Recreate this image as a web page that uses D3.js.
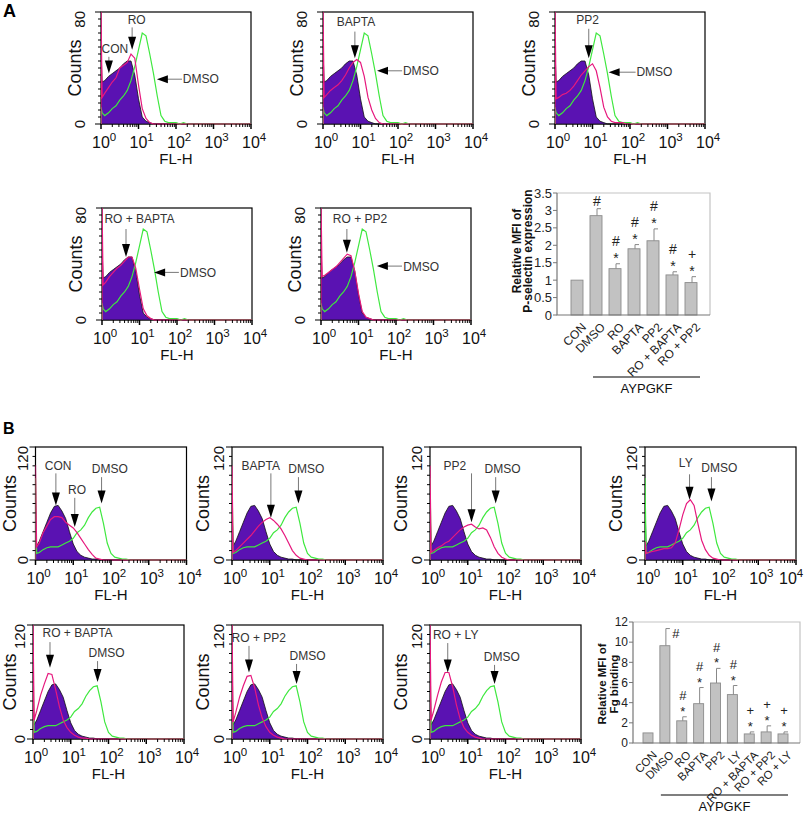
<!DOCTYPE html>
<html><head><meta charset="utf-8">
<script src="https://cdn.jsdelivr.net/npm/d3@7"></script>
<style>
body{margin:0;background:#fff}
text{font-family:"Liberation Sans",Arial,Helvetica,sans-serif}
</style></head>
<body><svg id="chart" width="805" height="818"></svg>
<script>
// ---------- DATA ----------
// FL-H channel positions (decade exponents) at which histogram counts were read
const flExp = [0, 0.03, 0.1, 0.2, 0.3, 0.4, 0.5, 0.6, 0.7, 0.8, 0.9, 1.0, 1.1, 1.2, 1.3, 1.4, 1.5, 1.6, 1.7, 1.8, 1.9, 2.0, 2.1, 2.2, 2.3, 2.4, 2.5];
// Panel A histograms (P-selectin), counts
const A_CON     = [53, 30, 31, 34, 36, 38, 40, 43, 45, 45, 35, 18, 5, 2, 1, 0, 0, 0, 0, 0, 0, 0, 0, 0, 0, 0, 0];
const A_DMSO    = [12, 8, 6, 8, 11, 13, 17, 20, 24, 31, 41, 53, 65, 63, 50, 36, 20, 6, 2, 1, 1, 1, 0, 1, 0, 0, 0];
const A_RO      = [85, 19, 22, 26, 30, 33, 40, 42, 44, 50, 47, 28, 11, 4, 1, 0, 0, 0, 0, 0, 0, 0, 0, 0, 0, 0, 0];
const A_BAPTA   = [85, 19, 21, 24, 26, 28, 31, 35, 40, 44, 46, 44, 34, 19, 10, 4, 1, 0, 0, 0, 0, 0, 0, 0, 0, 0, 0];
const A_PP2     = [85, 18, 19, 21, 22, 24, 27, 31, 35, 38, 41, 43, 38, 26, 12, 5, 2, 1, 1, 1, 0, 0, 0, 0, 0, 0, 0];
const A_ROBAPTA = [85, 25, 27, 31, 34, 37, 39, 42, 45, 45, 37, 22, 8, 3, 1, 0, 0, 0, 0, 0, 0, 0, 0, 0, 0, 0, 0];
const A_ROPP2   = [85, 31, 32, 34, 36, 38, 41, 44, 47, 46, 35, 19, 6, 2, 1, 0, 0, 0, 0, 0, 0, 0, 0, 0, 0, 0, 0];
// Panel B histograms (Fg binding), counts
const B_CON     = [60, 15, 20, 30, 40, 50, 57, 58, 52, 44, 30, 17, 9, 5, 3, 2, 1, 1, 0, 0, 0, 0, 0, 0, 0, 0, 0];
const B_DMSO    = [87, 7, 8, 11, 13, 14, 14, 14, 16, 18, 20, 23, 29, 32, 37, 45, 51, 55, 56, 39, 18, 7, 3, 2, 1, 1, 0];
const B_RO      = [101, 14, 18, 29, 36, 43, 46, 46, 45, 40, 37, 34, 29, 23, 17, 11, 6, 2, 1, 0, 0, 0, 0, 0, 0, 0, 0];
const B_BAPTA   = [100, 8, 10, 14, 18, 22, 26, 31, 36, 40, 43, 45, 42, 38, 33, 26, 18, 10, 5, 2, 1, 0, 0, 0, 0, 0, 0];
const B_PP2     = [100, 8, 10, 13, 15, 18, 20, 24, 28, 32, 35, 37, 38, 35, 33, 34, 32, 24, 14, 7, 3, 1, 0, 0, 0, 0, 0];
const B_LY      = [20, 7, 8, 9, 10, 11, 12, 12, 13, 18, 32, 48, 60, 64, 58, 39, 21, 11, 5, 2, 1, 0, 0, 0, 0, 0, 0];
const B_ROBAPTA = [125, 20, 30, 46, 58, 69, 68, 52, 34, 20, 12, 7, 4, 2, 1, 1, 0, 0, 0, 0, 0, 0, 0, 0, 0, 0, 0];
const B_ROPP2   = [125, 18, 28, 44, 56, 66, 67, 54, 36, 22, 13, 7, 4, 2, 1, 0, 0, 0, 0, 0, 0, 0, 0, 0, 0, 0, 0];
const B_ROLY    = [125, 20, 30, 46, 60, 70, 70, 55, 36, 21, 12, 7, 4, 2, 1, 0, 0, 0, 0, 0, 0, 0, 0, 0, 0, 0, 0];
// x tick labels (decade exponents)
const decades = [0, 1, 2, 3, 4];

// Bar chart A: relative MFI of P-selectin expression
const barA_cats  = ["CON", "DMSO", "RO", "BAPTA", "PP2", "RO + BAPTA", "RO + PP2"];
const barA_vals  = [1.0, 2.85, 1.33, 1.9, 2.13, 1.15, 0.93];
const barA_errs  = [0, 0.2, 0.14, 0.12, 0.34, 0.09, 0.17];
const barA_marks = ["", "#", "#*", "#*", "#*", "#*", "+*"];
const barA_ticks = [0, 0.5, 1, 1.5, 2, 2.5, 3, 3.5];
// Bar chart B: relative MFI of Fg binding
const barB_cats  = ["CON", "DMSO", "RO", "BAPTA", "PP2", "LY", "RO + BAPTA", "RO + PP2", "RO + LY"];
const barB_vals  = [1.0, 9.65, 2.2, 3.9, 5.95, 4.8, 0.9, 1.1, 0.9];
const barB_errs  = [0, 1.7, 0.4, 1.6, 1.45, 0.9, 0.2, 0.6, 0.2];
const barB_marks = ["", "#", "#*", "#*", "#*", "#*", "+*", "+*", "+*"];
const barB_ticks = [0, 2, 4, 6, 8, 10, 12];

// ---------- DRAWING ----------
const svg = d3.select("#chart");
const W = 805;
const PURPLE = "#5a12b2", MAGENTA = "#e6197e", GREEN = "#3fe83f";
let clipN = 0;

function arrowDown(g, x, yTail, yTip) {
  g.append("line").attr("x1", x).attr("x2", x).attr("y1", yTail).attr("y2", yTip - 12)
    .attr("stroke", "#555").attr("stroke-width", 0.8);
  g.append("path").attr("d", `M${x - 4},${yTip - 13}L${x + 4},${yTip - 13}L${x},${yTip}Z`).attr("fill", "#000");
}
function arrowLeft(g, xTip, xTail, y) {
  g.append("line").attr("x1", xTip + 10).attr("x2", xTail).attr("y1", y).attr("y2", y)
    .attr("stroke", "#555").attr("stroke-width", 0.8);
  g.append("path").attr("d", `M${xTip + 11},${y - 4}L${xTip + 11},${y + 4}L${xTip},${y}Z`).attr("fill", "#000");
}

function drawHist(p) {
  const x = d3.scaleLog().domain([1, 1e4]).range([p.left, p.left + p.w]);
  const y = d3.scaleLinear().domain([0, p.ymax]).range([p.top + p.h, p.top]);
  const bottom = p.top + p.h;
  const g = svg.append("g");
  const id = "clip" + (clipN++);
  svg.append("clipPath").attr("id", id).append("rect")
    .attr("x", p.left).attr("y", p.top).attr("width", p.w).attr("height", p.h + 1.5);
  g.append("rect").attr("x", p.left).attr("y", p.top).attr("width", p.w).attr("height", p.h)
    .attr("fill", "none").attr("stroke", "#000").attr("stroke-width", 1.2);
  const pts = arr => [[1, 0]].concat(flExp.map((e, i) => [Math.pow(10, e), arr[i]]), [[1e4, 0]]);
  const area = d3.area().x(d => x(d[0])).y0(y(0)).y1(d => y(d[1]));
  const line = d3.line().x(d => x(d[0])).y(d => y(d[1]));
  const cg = g.append("g").attr("clip-path", `url(#${id})`);
  cg.append("path").attr("d", area(pts(p.fill))).attr("fill", PURPLE).attr("stroke", "#111").attr("stroke-width", 0.8);
  cg.append("path").attr("d", line(pts(p.green))).attr("fill", "none").attr("stroke", GREEN).attr("stroke-width", 1.2);
  cg.append("path").attr("d", line(pts(p.mag))).attr("fill", "none").attr("stroke", MAGENTA).attr("stroke-width", 1.2);

  // x ticks
  for (let d = 0; d < 4; d++) for (let m = 1; m <= 9; m++) {
    const v = m * Math.pow(10, d);
    g.append("line").attr("x1", x(v)).attr("x2", x(v)).attr("y1", bottom).attr("y2", bottom + (m === 1 ? 5 : 3))
      .attr("stroke", "#000").attr("stroke-width", m === 1 ? 1.5 : 1);
  }
  g.append("line").attr("x1", x(1e4)).attr("x2", x(1e4)).attr("y1", bottom).attr("y2", bottom + 5).attr("stroke", "#000").attr("stroke-width", 1.5);
  // y ticks
  for (let c = 0; c <= p.ymax; c += p.ystep) {
    const major = (c === 0 || c === p.ymax);
    g.append("line").attr("x1", p.left).attr("x2", p.left - (major ? 6 : 3)).attr("y1", y(c)).attr("y2", y(c))
      .attr("stroke", "#000").attr("stroke-width", 1);
  }
  // x tick labels 10^n
  decades.forEach(n => {
    const x0 = Math.min(x(Math.pow(10, n)) - 9, W - 26);
    const t = g.append("text").attr("x", x0).attr("y", bottom + 24)
      .attr("font-size", 16).attr("fill", "#111");
    t.append("tspan").text("10");
    t.append("tspan").attr("dy", -7).attr("font-size", 11.5).text(n);
  });
  g.append("text").attr("x", p.left + p.w / 2).attr("y", bottom + 40).attr("text-anchor", "middle")
    .attr("font-size", 15).attr("fill", "#111").text("FL-H");
  // y labels
  g.append("text").attr("transform", `translate(${p.left - p.cOff},${p.top + p.h / 2}) rotate(-90)`)
    .attr("text-anchor", "middle").attr("font-size", 18).attr("fill", "#111").text("Counts");
  g.append("text").attr("transform", `translate(${p.left - p.tOff},${p.top - 1}) rotate(-90)`)
    .attr("text-anchor", "end").attr("font-size", 15).attr("fill", "#111").text(p.ymax);
  g.append("text").attr("transform", `translate(${p.left - p.tOff},${bottom}) rotate(-90)`)
    .attr("text-anchor", "middle").attr("font-size", 15).attr("fill", "#111").text("0");
  // annotations (in data coordinates)
  p.notes.forEach(a => {
    if (a.k === "t") {
      g.append("text").attr("x", x(Math.pow(10, a.x))).attr("y", y(a.y)).attr("text-anchor", a.a || "middle")
        .attr("font-size", 12).attr("fill", "#333").text(a.t);
    } else if (a.k === "d") {
      arrowDown(g, x(Math.pow(10, a.x)), y(a.tail), y(a.tip));
    } else if (a.k === "l") {
      arrowLeft(g, x(Math.pow(10, a.tip)), x(Math.pow(10, a.tail)), y(a.y));
    }
  });
}

const AH = {w: 150, h: 112, ymax: 80, ystep: 5, cOff: 20, tOff: 16};
const BH = {w: 151, ymax: 120, ystep: 10, cOff: 21, tOff: 8};
const hists = [
  Object.assign({}, AH, {left: 101, top: 12, fill: A_CON, green: A_DMSO, mag: A_RO, notes: [
    {k: "t", t: "RO", x: 0.95, y: 71.5}, {k: "d", x: 0.83, tail: 69, tip: 53},
    {k: "t", t: "CON", x: 0.37, y: 51}, {k: "d", x: 0.21, tail: 48, tip: 36},
    {k: "l", y: 32, tip: 1.49, tail: 2.16}, {k: "t", t: "DMSO", x: 2.18, y: 29, a: "start"}]}),
  Object.assign({}, AH, {left: 323, top: 12, fill: A_CON, green: A_DMSO, mag: A_BAPTA, notes: [
    {k: "t", t: "BAPTA", x: 0.88, y: 70}, {k: "d", x: 0.85, tail: 66, tip: 47},
    {k: "l", y: 38, tip: 1.44, tail: 2.11}, {k: "t", t: "DMSO", x: 2.13, y: 35, a: "start"}]}),
  Object.assign({}, AH, {left: 555, top: 12, fill: A_CON, green: A_DMSO, mag: A_PP2, notes: [
    {k: "t", t: "PP2", x: 0.87, y: 71.5}, {k: "d", x: 0.9, tail: 68, tip: 47},
    {k: "l", y: 37, tip: 1.43, tail: 2.15}, {k: "t", t: "DMSO", x: 2.17, y: 34, a: "start"}]}),
  Object.assign({}, AH, {left: 102, top: 208, fill: A_CON, green: A_DMSO, mag: A_ROBAPTA, notes: [
    {k: "t", t: "RO + BAPTA", x: 1.0, y: 69}, {k: "d", x: 0.64, tail: 65, tip: 45},
    {k: "l", y: 34, tip: 1.39, tail: 2.05}, {k: "t", t: "DMSO", x: 2.08, y: 31, a: "start"}]}),
  Object.assign({}, AH, {left: 321, top: 208, fill: A_CON, green: A_DMSO, mag: A_ROPP2, notes: [
    {k: "t", t: "RO + PP2", x: 1.04, y: 69}, {k: "d", x: 0.69, tail: 65, tip: 48},
    {k: "l", y: 38.5, tip: 1.49, tail: 2.16}, {k: "t", t: "DMSO", x: 2.19, y: 35, a: "start"}]}),
  Object.assign({}, BH, {left: 35.5, top: 447, h: 113, cOff: 20, fill: B_CON, green: B_DMSO, mag: B_RO, notes: [
    {k: "t", t: "CON", x: 0.6, y: 96}, {k: "d", x: 0.54, tail: 92, tip: 58},
    {k: "t", t: "RO", x: 1.1, y: 70}, {k: "d", x: 1.04, tail: 66, tip: 35},
    {k: "t", t: "DMSO", x: 1.97, y: 92}, {k: "d", x: 1.75, tail: 88, tip: 60}]}),
  Object.assign({}, BH, {left: 232, top: 447, h: 113, cOff: 23, fill: B_CON, green: B_DMSO, mag: B_BAPTA, notes: [
    {k: "t", t: "BAPTA", x: 0.76, y: 96}, {k: "d", x: 1.03, tail: 92, tip: 45},
    {k: "t", t: "DMSO", x: 1.97, y: 92}, {k: "d", x: 1.76, tail: 88, tip: 60}]}),
  Object.assign({}, BH, {left: 430, top: 447, h: 113, cOff: 23, fill: B_CON, green: B_DMSO, mag: B_PP2, notes: [
    {k: "t", t: "PP2", x: 0.66, y: 96}, {k: "d", x: 1.1, tail: 92, tip: 40},
    {k: "t", t: "DMSO", x: 1.92, y: 92}, {k: "d", x: 1.74, tail: 88, tip: 60}]}),
  Object.assign({}, BH, {left: 645, top: 447, h: 113, cOff: 23, fill: B_CON, green: B_DMSO, mag: B_LY, notes: [
    {k: "t", t: "LY", x: 1.08, y: 99}, {k: "d", x: 1.18, tail: 91, tip: 64},
    {k: "t", t: "DMSO", x: 1.97, y: 93}, {k: "d", x: 1.76, tail: 88, tip: 62}]}),
  Object.assign({}, BH, {left: 33, top: 625, h: 114, cOff: 17.5, fill: B_CON, green: B_DMSO, mag: B_ROBAPTA, notes: [
    {k: "t", t: "RO + BAPTA", x: 1.18, y: 107}, {k: "d", x: 0.45, tail: 102, tip: 75},
    {k: "t", t: "DMSO", x: 1.95, y: 86}, {k: "d", x: 1.71, tail: 82, tip: 60}]}),
  Object.assign({}, BH, {left: 232, top: 625, h: 114, cOff: 23, fill: B_CON, green: B_DMSO, mag: B_ROPP2, notes: [
    {k: "t", t: "RO + PP2", x: 0.71, y: 102}, {k: "d", x: 0.45, tail: 98, tip: 70},
    {k: "t", t: "DMSO", x: 2.0, y: 83}, {k: "d", x: 1.71, tail: 79, tip: 58}]}),
  Object.assign({}, BH, {left: 430, top: 625, h: 114, cOff: 23, fill: B_CON, green: B_DMSO, mag: B_ROLY, notes: [
    {k: "t", t: "RO + LY", x: 0.68, y: 105}, {k: "d", x: 0.47, tail: 101, tip: 70},
    {k: "t", t: "DMSO", x: 1.9, y: 82}, {k: "d", x: 1.71, tail: 78, tip: 58}]})
];
hists.forEach(drawHist);

function drawBars(p) {
  const x = d3.scalePoint().domain(p.cats).range([p.c0, p.c1]);
  const y = d3.scaleLinear().domain([0, p.ymax]).range([p.bottom, p.top]);
  const g = svg.append("g");
  // frame
  g.append("path").attr("d", `M${p.left},${p.top}H${p.right}V${p.bottom}`).attr("fill", "none").attr("stroke", "#c4c4c4").attr("stroke-width", 1.2);
  // bars
  p.cats.forEach((c, i) => {
    const cx = x(c);
    g.append("rect").attr("x", cx - p.bw / 2).attr("y", y(p.vals[i])).attr("width", p.bw)
      .attr("height", y(0) - y(p.vals[i])).attr("fill", "#c2c2c2").attr("stroke", "#8c8c8c").attr("stroke-width", 0.9);
    let top = y(p.vals[i]);
    if (p.errs[i] > 0) {
      const ye = y(p.vals[i] + p.errs[i]);
      g.append("line").attr("x1", cx + 1).attr("x2", cx + 1).attr("y1", y(p.vals[i])).attr("y2", ye).attr("stroke", "#888").attr("stroke-width", 1);
      g.append("line").attr("x1", cx + 1).attr("x2", cx + 5).attr("y1", ye).attr("y2", ye).attr("stroke", "#888").attr("stroke-width", 1);
      top = ye;
    }
    const mk = p.marks[i];
    if (mk.length === 1) {
      if (top - 14 < p.top) {
        g.append("text").attr("x", cx + 11).attr("y", top + 9).attr("text-anchor", "middle").attr("font-size", p.mfs).attr("fill", "#222").text(mk);
      } else {
        g.append("text").attr("x", cx + 1).attr("y", top - 3).attr("text-anchor", "middle").attr("font-size", p.mfs).attr("fill", "#222").text(mk);
      }
    } else if (mk.length === 2) {
      g.append("text").attr("x", cx + 1).attr("y", top - 1).attr("text-anchor", "middle")
        .attr("font-size", p.mfs).attr("fill", "#222").text(mk[1]);
      g.append("text").attr("x", cx + 1).attr("y", top - 1 - p.mgap).attr("text-anchor", "middle")
        .attr("font-size", p.mfs).attr("fill", "#222").text(mk[0]);
    }
    g.append("text").attr("transform", `translate(${cx + 4},${p.bottom + 7}) rotate(-45)`)
      .attr("text-anchor", "end").attr("dy", "0.7em").attr("font-size", p.cfs).attr("fill", "#222").text(c);
  });
  // axes
  g.append("path").attr("d", `M${p.left},${p.top}V${p.bottom}H${p.right}`).attr("fill", "none").attr("stroke", "#777").attr("stroke-width", 1.2);
  p.ticks.forEach(t => {
    g.append("line").attr("x1", p.left - 4).attr("x2", p.left).attr("y1", y(t)).attr("y2", y(t)).attr("stroke", "#777");
    g.append("text").attr("x", p.left - 5).attr("y", y(t)).attr("dy", "0.35em").attr("text-anchor", "end")
      .attr("font-size", p.tfs).attr("fill", "#222").text(t);
  });
  // y label
  p.ylab.forEach((s, i) => {
    g.append("text").attr("transform", `translate(${p.ylx[i]},${p.yly}) rotate(-90)`).attr("text-anchor", "middle")
      .attr("font-size", p.yfs).attr("font-weight", "bold").attr("fill", "#111").text(s);
  });
  // AYPGKF bracket
  const x1 = x(p.cats[1]) - p.lineL, x2 = x(p.cats[p.cats.length - 1]) + p.lineR;
  g.append("line").attr("x1", x1).attr("x2", x2).attr("y1", p.lineY).attr("y2", p.lineY).attr("stroke", "#000").attr("stroke-width", 1.2);
  g.append("text").attr("x", (x1 + x2) / 2).attr("y", p.lineY + 16).attr("text-anchor", "middle")
    .attr("font-size", 13).attr("fill", "#111").text("AYPGKF");
}

drawBars({cats: barA_cats, vals: barA_vals, errs: barA_errs, marks: barA_marks, ticks: barA_ticks,
  left: 557, right: 710, top: 193, bottom: 315, ymax: 3.5, c0: 577, c1: 691, bw: 12,
  ylab: ["Relative MFI of", "P-selectin expression"], ylx: [521, 532], yly: 251, yfs: 12,
  tfs: 13, cfs: 12, mfs: 14, mgap: 16.5,
  lineL: 3, lineR: 9, lineY: 377});
drawBars({cats: barB_cats, vals: barB_vals, errs: barB_errs, marks: barB_marks, ticks: barB_ticks,
  left: 633, right: 800, top: 622, bottom: 743, ymax: 12, c0: 648, c1: 783, bw: 10,
  ylab: ["Relative MFI of", "Fg binding"], ylx: [606, 618], yly: 684, yfs: 11.5,
  tfs: 12, cfs: 11.5, mfs: 13, mgap: 15.5,
  lineL: 4, lineR: 5, lineY: 795});

// panel letters
svg.append("text").attr("x", 3).attr("y", 17).attr("font-size", 18).attr("font-weight", "bold").text("A");
svg.append("text").attr("x", 3).attr("y", 434).attr("font-size", 16).attr("font-weight", "bold").text("B");
</script>
</body></html>
